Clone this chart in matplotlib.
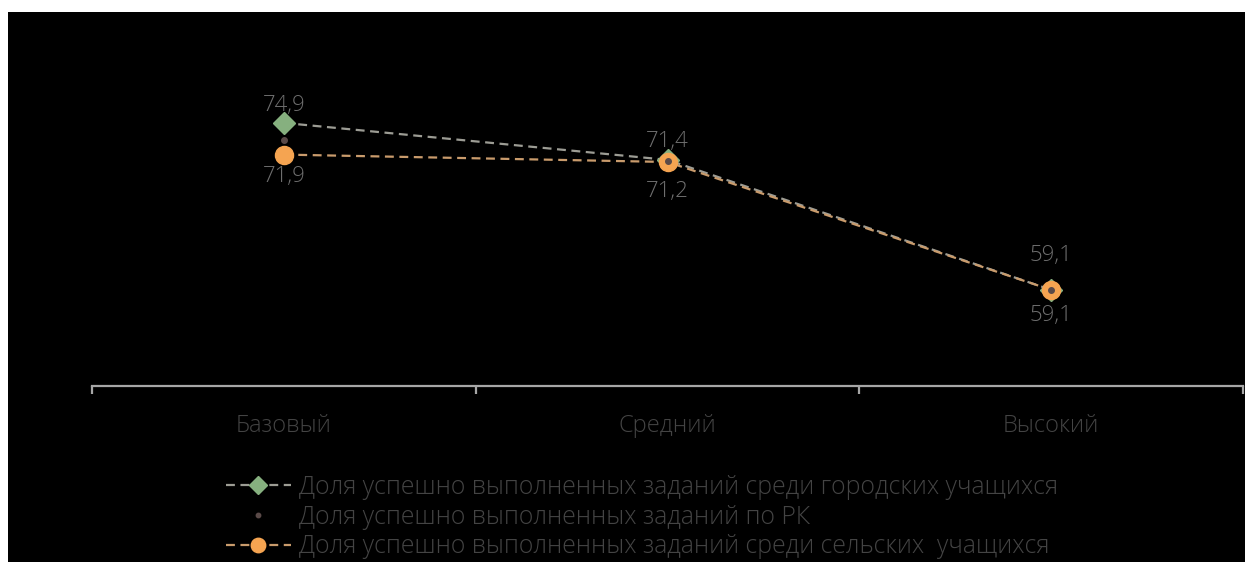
import matplotlib
matplotlib.use("Agg")
from matplotlib import pyplot as plt
from matplotlib.patches import Rectangle

# data
levels = ["Базовый", "Средний", "Высокий"]
city = [74.9, 71.4, 59.1]
rk = [73.3, 71.3, 59.1]
rural = [71.9, 71.2, 59.1]
labels = [
    "Доля успешно выполненных заданий среди городских учащихся",
    "Доля успешно выполненных заданий по РК",
    "Доля успешно выполненных заданий среди сельских  учащихся",
]

plt.rcParams['font.family'] = ['Open Sans', 'DejaVu Sans']
plt.rcParams['font.weight'] = 'light'

fig = plt.figure(figsize=(12.45, 5.62), dpi=100)
fig.patch.set_facecolor("white")
# black panel with a thin white margin at top and left
fig.add_artist(Rectangle((8 / 1245, 0), 1, (562 - 12) / 562,
                         transform=fig.transFigure, facecolor="black",
                         edgecolor="none", zorder=0))

ax = fig.add_axes([92 / 1245, 176 / 562, (1243 - 92) / 1245, (386 - 69) / 562])
ax.set_facecolor("none")

x = list(range(len(levels)))

ax.plot(x, city, linestyle=(0, (4, 2.5)), color="#9c9c94", linewidth=1.6,
        marker="D", markersize=11, markerfacecolor="#86b07f",
        markeredgecolor="#86b07f", label=labels[0], zorder=3)
ax.plot(x, rural, linestyle=(0, (4, 2.5)), color="#c99b6c", linewidth=1.6,
        marker="o", markersize=13, markerfacecolor="#f5a451",
        markeredgecolor="#f5a451", label=labels[2], zorder=4)
ax.plot(x, rk, linestyle="none", marker="o", markersize=4,
        color="#5a4a48", label=labels[1], zorder=5)

up = [5, 6, 17]
down = [-8, -14, -11]
for i in x:
    ax.annotate(f"{city[i]:.1f}".replace(".", ","), (i, city[i]),
                xytext=(0, up[i]), textcoords="offset points", ha="center",
                va="bottom", fontsize=16, color="#6e6e6e")
    ax.annotate(f"{rural[i]:.1f}".replace(".", ","), (i, rural[i]),
                xytext=(0, down[i]), textcoords="offset points", ha="center",
                va="top", fontsize=16, color="#6e6e6e")

ax.set_xlim(-0.5, 2.5)
ax.set_ylim(50, 80)
ax.set_yticks([])
for s in ["top", "right", "left"]:
    ax.spines[s].set_visible(False)
ax.spines["bottom"].set_color("#a6a6a6")
ax.spines["bottom"].set_linewidth(1.6)
ax.set_xticks([-0.5, 0.5, 1.5, 2.5])
ax.set_xticklabels([])
ax.tick_params(axis="x", which="major", length=6, width=1.6, color="#a6a6a6")
ax.set_xticks(x, minor=True)
ax.set_xticklabels(levels, minor=True)
ax.tick_params(axis="x", which="minor", length=0, pad=20, labelsize=17,
               labelcolor="#444444")

handles, labs = ax.get_legend_handles_labels()
order = [0, 2, 1]
leg = fig.legend([handles[i] for i in order], [labs[i] for i in order],
                 loc="center", bbox_to_anchor=(642 / 1245, 1 - 517 / 562),
                 frameon=False, fontsize=17.8, handlelength=2.6, markerscale=0.8,
                 labelspacing=0.2, handletextpad=0.32, labelcolor="#444444")

fig.savefig("out.png", dpi=100, facecolor="white")
